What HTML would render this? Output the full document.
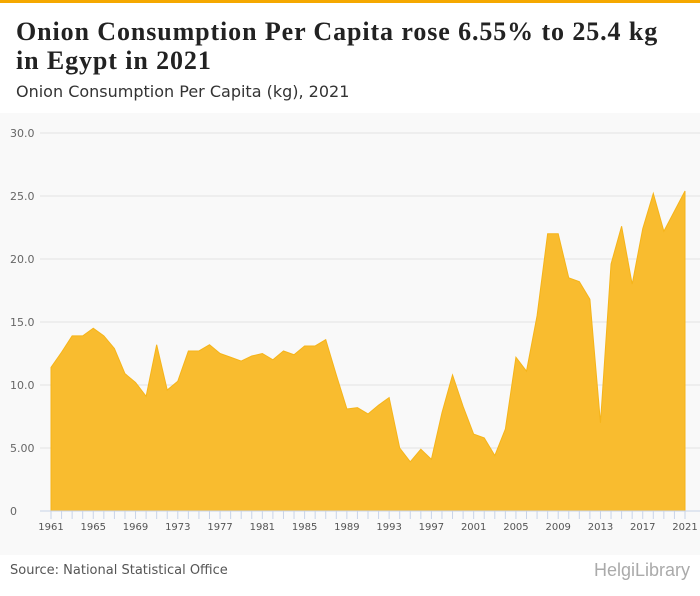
<!DOCTYPE html>
<html><head><meta charset="utf-8"><style>
body{margin:0;width:700px;height:596px;overflow:hidden;background:#fff;font-family:"Liberation Sans",sans-serif}
#top{position:absolute;left:0;top:0;width:700px;height:3px;background:#f5a800}
#title{position:absolute;left:16px;top:17px;font:bold 26px/29px "Liberation Serif",serif;letter-spacing:0.9px;color:#222;margin:0}
#sub{position:absolute;left:16px;top:82px;font-size:16px;font-family:"DejaVu Sans",sans-serif;color:#333}
#src{position:absolute;left:10px;top:563px;font-size:13px;font-family:"DejaVu Sans",sans-serif;color:#555}
#logo{position:absolute;right:10px;top:560px;font-size:18px;color:#aaa}
</style></head><body>
<div id="top"></div>
<h1 id="title">Onion Consumption Per Capita rose 6.55% to 25.4 kg<br>in Egypt in 2021</h1>
<div id="sub">Onion Consumption Per Capita (kg), 2021</div>
<svg id="chart" width="700" height="442" style="position:absolute;left:0;top:113px"></svg>
<div id="src">Source: National Statistical Office</div>
<div id="logo">HelgiLibrary</div>
<script>
const years=[1961,1962,1963,1964,1965,1966,1967,1968,1969,1970,1971,1972,1973,1974,1975,1976,1977,1978,1979,1980,1981,1982,1983,1984,1985,1986,1987,1988,1989,1990,1991,1992,1993,1994,1995,1996,1997,1998,1999,2000,2001,2002,2003,2004,2005,2006,2007,2008,2009,2010,2011,2012,2013,2014,2015,2016,2017,2018,2019,2020,2021];
const values=[11.4,12.6,13.9,13.9,14.5,13.9,12.9,10.9,10.2,9.1,13.2,9.6,10.3,12.7,12.7,13.2,12.5,12.2,11.9,12.3,12.5,12.0,12.7,12.4,13.1,13.1,13.6,10.8,8.1,8.2,7.7,8.4,9.0,5.0,3.9,4.9,4.1,7.8,10.8,8.3,6.1,5.8,4.4,6.5,12.2,11.1,15.5,22.0,22.0,18.5,18.2,16.8,7.0,19.6,22.6,18.0,22.4,25.2,22.2,23.8,25.4];
const yTicks=[0,5,10,15,20,25,30];
const yLabels=["0","5.00","10.0","15.0","20.0","25.0","30.0"];
const NS="http://www.w3.org/2000/svg";
const svg=document.getElementById('chart');
const X=y=>51+(y-1961)*(685-51)/60;
const Y=v=>398-v*12.6;
function mk(t,a){const e=document.createElementNS(NS,t);for(const k in a)e.setAttribute(k,a[k]);svg.appendChild(e);return e;}
const bg=mk('rect',{x:0,y:0,width:700,height:442,fill:'#f9f9f9'});


yTicks.forEach((t,i)=>{
 const l=mk('line',{x1:40,x2:700,y1:Y(t),y2:Y(t),stroke:'#e2e2e2'});
 
 
 const tx=mk('text',{x:10,y:Y(t)+4,'font-size':11,fill:'#666','font-family':'DejaVu Sans'});
 tx.textContent=yLabels[i];
 
 
});
let d='M'+X(years[0])+','+Y(0);
years.forEach((y,i)=>{d+=' L'+X(y)+','+Y(values[i]);});
d+=' L'+X(years[years.length-1])+','+Y(0)+' Z';
const area=mk('path',{d:d,fill:'#f9bc2f',stroke:'#f5b41a','stroke-width':1});


const ax=mk('line',{x1:40,x2:700,y1:Y(0),y2:Y(0),stroke:'#c8d3e8'});


years.forEach((y,i)=>{
 const tk=mk('line',{x1:X(y),x2:X(y),y1:Y(0),y2:Y(0)+8,stroke:'#c8d3e8'});
 
 
 if(i%4===0){
  const tx=mk('text',{x:X(y),y:Y(0)+19,'font-size':10,fill:'#555','text-anchor':'middle','font-family':'DejaVu Sans'});
  tx.textContent=y;
  
  
 }
});
</script>
</body></html>
